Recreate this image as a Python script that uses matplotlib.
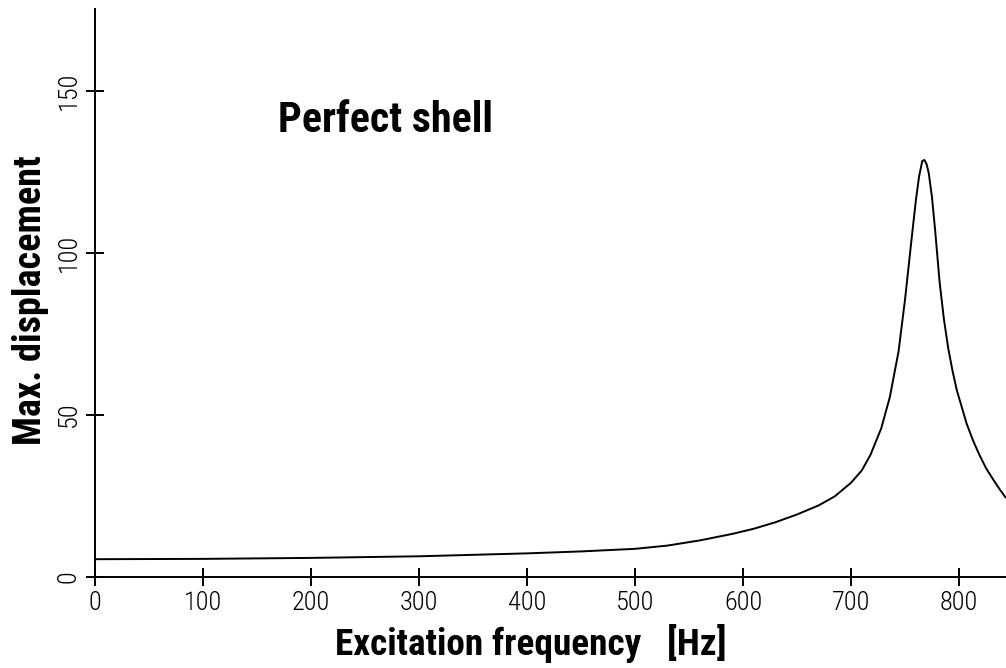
import matplotlib
matplotlib.use("Agg")
import matplotlib.pyplot as plt
from matplotlib import font_manager as fm

# Data
freq_hz = [0, 100, 200, 300, 400, 450, 500, 530, 560, 590, 610, 630, 650, 670, 685,
           700, 710, 718, 728, 736, 744, 750, 756, 760, 763, 766, 768, 770, 772, 775,
           778, 782, 786, 790, 794, 798, 807, 813, 819, 825, 832, 838, 843]
max_disp = [5.4, 5.5, 5.8, 6.3, 7.2, 7.8, 8.6, 9.6, 11.2, 13.2, 14.8, 16.8, 19.2, 22.0, 24.8,
            29.0, 32.8, 37.6, 45.8, 55.5, 69.5, 85.5, 104.0, 116.0, 123.5, 128.3, 128.6, 127.3, 124.5, 117.0,
            106.5, 91.0, 79.5, 70.5, 63.5, 57.5, 47.3, 42.0, 37.5, 33.5, 29.8, 26.8, 24.5]
x_ticks = [0, 100, 200, 300, 400, 500, 600, 700, 800]
y_ticks = [0, 50, 100, 150]
title_text = 'Perfect shell'
x_label = 'Excitation frequency   [Hz]'
y_label = 'Max. displacement'

# ---- choose a narrow font if one is installed ----
entries = fm.fontManager.ttflist
names = {f.name for f in entries}
FAM, STRETCH = 'DejaVu Sans', 'normal'
for cand in ['Roboto Condensed', 'Liberation Sans Narrow', 'Open Sans Condensed',
             'DejaVu Sans Condensed', 'Noto Sans Condensed', 'Arial Narrow']:
    if cand in names:
        FAM = cand
        break
else:
    for pref in ['DejaVu Sans', 'Noto Sans', 'Roboto', 'Open Sans', 'Liberation Sans']:
        if any(f.name == pref and str(f.stretch) in ('condensed', 'semi-condensed', '87.5', '75')
               for f in entries):
            FAM, STRETCH = pref, 'condensed'
            break

W, H = 1006, 668
X0, Y0, YTOP = 95.0, 576.7, 9.0

fig = plt.figure(figsize=(W / 100, H / 100), dpi=100)
ax = fig.add_axes([X0 / W, (H - Y0) / H, 1 - X0 / W, (Y0 - YTOP) / H])

ax.plot(freq_hz, max_disp, color='black', lw=1.4, solid_joinstyle='round')

ax.set_xlim(0, 843.5)
ax.set_ylim(0, 175.2)

for s in ('top', 'right'):
    ax.spines[s].set_visible(False)
for s in ('left', 'bottom'):
    ax.spines[s].set_linewidth(1.4)

# measure tick label size so that "100" is ~40 px wide
renderer = fig.canvas.get_renderer()
probe = fig.text(0, 0, '100', family=FAM, stretch=STRETCH, fontsize=20, fontweight='light')
pw = probe.get_window_extent(renderer).width
tick_fs = min(20 * 40.0 / pw, 19)
probe.remove()

ax.set_xticks(x_ticks)
ax.set_yticks(y_ticks)
ax.set_xticklabels([str(v) for v in x_ticks], family=FAM, stretch=STRETCH,
                   fontsize=tick_fs, fontweight='light')
ax.set_yticklabels([str(v) for v in y_ticks], family=FAM, stretch=STRETCH,
                   fontsize=tick_fs, fontweight='light', rotation=90, va='center')
ax.tick_params(axis='both', direction='inout', length=13, width=1.4, color='black')
ax.tick_params(axis='x', pad=4)
ax.tick_params(axis='y', pad=4)

# x label
xl = ax.set_xlabel(x_label, family=FAM, stretch=STRETCH, fontsize=25, fontweight='bold')
xl.set_va('baseline')
ax.xaxis.set_label_coords((531 - X0) / (W - X0), -(655 - Y0) / (Y0 - YTOP))

# y label
yl = ax.set_ylabel(y_label, family=FAM, stretch=STRETCH, fontsize=25, fontweight='bold')
yl.set_rotation_mode('anchor')
yl.set_va('baseline')
yl.set_ha('center')
ax.yaxis.set_label_coords(-(X0 - 41) / (W - X0), (Y0 - 300) / (Y0 - YTOP))

# title-like annotation
tt = ax.text(0, 0, title_text, family=FAM, stretch=STRETCH, fontsize=31.5,
             fontweight='bold', ha='left', va='baseline')
tt.set_position(((278 - X0) / 1.0809, (Y0 - 132) / 3.2400))

# fit the text sizes to the widths seen in the reference
fig.canvas.draw()
r = fig.canvas.get_renderer()
def fit(t, target, vertical=False, cap=None):
    e = t.get_window_extent(r)
    cur = e.height if vertical else e.width
    fs = t.get_fontsize() * target / cur
    if cap is not None:
        fs = min(fs, cap)
    t.set_fontsize(fs)

fit(tt, 215, cap=34)
fit(xl, 392, cap=28)
fit(yl, 290, vertical=True, cap=28)

fig.savefig('out.png', dpi=100)
